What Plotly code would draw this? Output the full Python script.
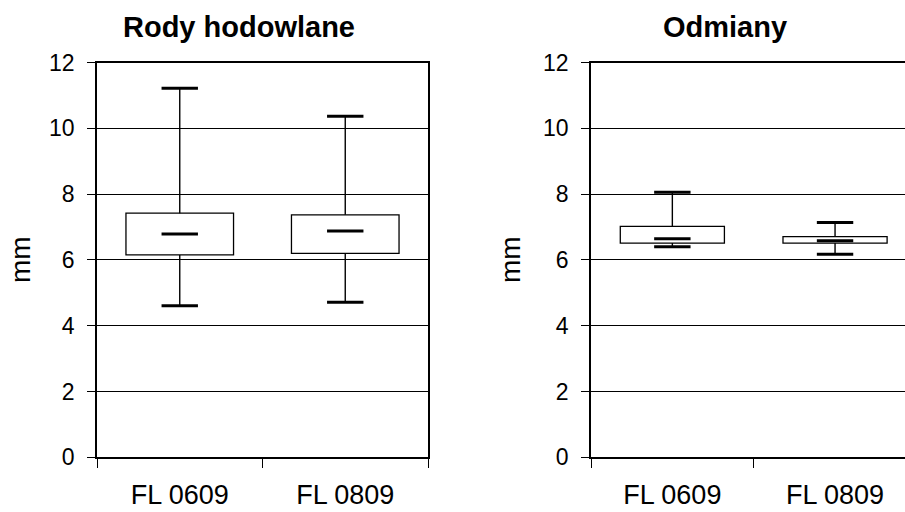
import plotly.graph_objects as go

# Five-number summaries (mm) for each group
categories = ["FL 0609", "FL 0809"]

breeding_min = [4.61, 4.71]
breeding_q1 = [6.15, 6.20]
breeding_median = [6.79, 6.88]
breeding_q3 = [7.42, 7.37]
breeding_max = [11.22, 10.37]

variety_min = [6.40, 6.17]
variety_q1 = [6.51, 6.51]
variety_median = [6.64, 6.58]
variety_q3 = [7.02, 6.71]
variety_max = [8.06, 7.14]

y_ticks = [0, 2, 4, 6, 8, 10, 12]

W, H = 905, 512
FONT = "Liberation Sans, Arial, sans-serif"

fig = go.Figure()


def add_boxes(xa, ya, mins, q1s, meds, q3s, maxs, box_width):
    # box body: bar from Q1 to Q3
    fig.add_trace(go.Bar(
        x=categories,
        y=[q3 - q1 for q1, q3 in zip(q1s, q3s)],
        base=q1s,
        width=box_width,
        marker=dict(color="white", line=dict(color="black", width=1.3)),
        xaxis=xa, yaxis=ya, showlegend=False, hoverinfo="skip",
    ))
    # whisker stems
    sx, sy = [], []
    for c, lo, q1, q3, hi in zip(categories, mins, q1s, q3s, maxs):
        sx += [c, c, None, c, c, None]
        sy += [q3, hi, None, q1, lo, None]
    fig.add_trace(go.Scatter(
        x=sx, y=sy, mode="lines",
        line=dict(color="black", width=1.4),
        xaxis=xa, yaxis=ya, showlegend=False, hoverinfo="skip",
    ))
    # whisker caps and median marks
    cx = categories * 3
    cy = list(mins) + list(maxs) + list(meds)
    fig.add_trace(go.Scatter(
        x=cx, y=cy, mode="markers",
        marker=dict(symbol="line-ew", size=26, color="black",
                    line=dict(color="black", width=3)),
        xaxis=xa, yaxis=ya, showlegend=False, hoverinfo="skip",
    ))


add_boxes("x", "y", breeding_min, breeding_q1, breeding_median,
          breeding_q3, breeding_max, 0.65)
add_boxes("x2", "y2", variety_min, variety_q1, variety_median,
          variety_q3, variety_max, 0.64)

# plot-area geometry in pixels
left_x0, left_x1 = 97, 428
right_x0, right_cat = 591, 162.7
top_px, bottom_px = 62.5, 457.3

right_end = -0.5 + (W - right_x0) / right_cat

ydom = [(H - bottom_px) / H, (H - top_px) / H]

xaxis_common = dict(
    type="category", categoryorder="array", categoryarray=categories,
    showline=True, linecolor="black", linewidth=1.6,
    ticks="outside", ticklen=9, tickwidth=1.4, tickcolor="black",
    tickson="boundaries", showgrid=False, zeroline=False,
    tickfont=dict(family=FONT, size=27, color="black"),
    ticklabelstandoff=12, fixedrange=True, automargin=False,
)
yaxis_common = dict(
    range=[0, 12], tickvals=y_ticks, ticktext=[str(v) for v in y_ticks],
    showline=True, linecolor="black", linewidth=1.6,
    ticks="outside", ticklen=8, tickwidth=1.4, tickcolor="black",
    showgrid=True, gridcolor="black", gridwidth=1.2, zeroline=False,
    tickfont=dict(family=FONT, size=23, color="black"),
    ticklabelstandoff=8, domain=ydom, fixedrange=True, automargin=False,
)

fig.update_layout(
    width=W, height=H,
    margin=dict(l=0, r=0, t=0, b=0, pad=0, autoexpand=False),
    paper_bgcolor="white", plot_bgcolor="white",
    barmode="overlay",
    xaxis=dict(xaxis_common, domain=[left_x0 / W, left_x1 / W],
               range=[-0.5, 1.5], mirror=True, anchor="y"),
    yaxis=dict(yaxis_common, mirror=True, anchor="x"),
    xaxis2=dict(xaxis_common, domain=[right_x0 / W, 1.0],
                range=[-0.5, right_end], mirror=True, anchor="y2"),
    yaxis2=dict(yaxis_common, anchor="x2"),
    annotations=[
        dict(text="<b>Rody hodowlane</b>", x=238.5 / W, y=1 - 27 / H,
             xref="paper", yref="paper", xanchor="center", yanchor="middle",
             showarrow=False, font=dict(family=FONT, size=29, color="black")),
        dict(text="<b>Odmiany</b>", x=725 / W, y=1 - 27 / H,
             xref="paper", yref="paper", xanchor="center", yanchor="middle",
             showarrow=False, font=dict(family=FONT, size=29, color="black")),
        dict(text="mm", x=20 / W, y=1 - 260 / H, textangle=-90,
             xref="paper", yref="paper", xanchor="center", yanchor="middle",
             showarrow=False, font=dict(family=FONT, size=28, color="black")),
        dict(text="mm", x=510 / W, y=1 - 260 / H, textangle=-90,
             xref="paper", yref="paper", xanchor="center", yanchor="middle",
             showarrow=False, font=dict(family=FONT, size=28, color="black")),
    ],
)

fig.write_html("out.html")
